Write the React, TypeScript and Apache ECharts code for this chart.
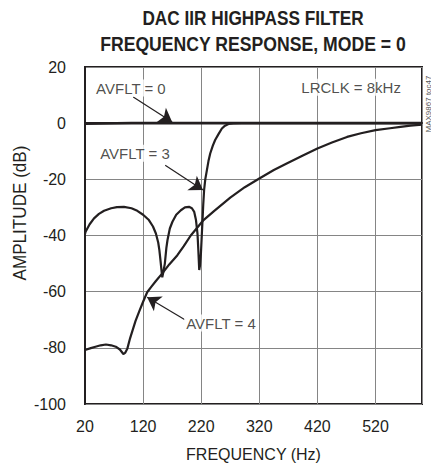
import React, { useEffect, useRef } from 'react';
import * as echarts from 'echarts';

const X_MIN = 20;
const X_MAX = 600;
const X_STEP = 100;
const Y_MIN = -100;
const Y_MAX = 20;
const Y_STEP = 20;

const titleLines = ['DAC IIR HIGHPASS FILTER', 'FREQUENCY RESPONSE, MODE = 0'];
const xAxisName = 'FREQUENCY (Hz)';
const yAxisName = 'AMPLITUDE (dB)';
const figureId = 'MAX9867 toc47';

const avflt0Freq = [20, 100, 200, 300, 400, 500, 600];
const avflt0Db = [-0.2, 0, 0, 0, 0, 0, 0];

const avflt3Freq = [20, 21, 28, 35.5, 44, 52.8, 65, 75, 87, 100, 110, 120, 130, 137, 142, 146, 148, 150, 151.6, 153, 155, 157.4, 160, 162, 166, 170.5, 177, 185, 192, 199, 204, 208, 211, 213.6, 215, 216.6, 218, 219.5, 221, 222, 223.5, 225, 227, 229.8, 232.5, 235.5, 240, 244, 250, 255.6, 261, 267, 275, 290, 400, 500, 600];
const avflt3Db = [-39.5, -38.7, -36, -33.9, -32.3, -31.2, -30.3, -29.9, -29.8, -30.3, -31.2, -32.6, -34.5, -36.8, -39.3, -42.5, -45.2, -49, -52.3, -54.9, -52.8, -50, -44.5, -41.6, -37.5, -35.1, -32.6, -31, -30, -29.8, -30.3, -31.6, -34.5, -39.3, -45, -52.3, -50.5, -46.4, -40, -35.7, -29, -23.8, -20, -16.7, -13.5, -10.8, -8, -6, -3.8, -1.9, -0.9, -0.3, -0.1, 0, 0, 0, 0];

const avflt4Freq = [20, 30, 38, 47, 56, 65, 73, 80, 86, 89, 93, 97, 102, 107, 113, 120, 127, 134, 142, 153, 165, 179, 190, 202, 212, 224, 242, 270, 295, 320, 345, 368, 395, 420, 445, 471, 495, 520, 545, 563, 580, 600];
const avflt4Db = [-80.8, -80.1, -79.6, -79.1, -78.8, -79.1, -79.6, -80.6, -82.2, -81.8, -80.2, -77, -73.7, -70.4, -67.2, -63.6, -60.2, -58.3, -56.2, -53.5, -50.3, -47, -43.8, -40, -37.5, -34.5, -31.3, -26.5, -22.8, -19.7, -16.7, -14.3, -11.5, -9, -6.9, -4.9, -3.6, -2.5, -1.8, -1.3, -0.9, -0.5];

const noteTexts = ['AVFLT = 0', 'AVFLT = 3', 'AVFLT = 4', 'LRCLK = 8kHz'];
const noteFreq = [99, 106, 254, 478];
const noteDb = [12.5, -10.7, -71.2, 12.8];

const arrowFromFreq = [103, 158, 192];
const arrowFromDb = [9.3, -15, -70];
const arrowToFreq = [170, 223, 127];
const arrowToDb = [0.4, -23.8, -62];

const INK = '#231f20';
const GRIDC = '#858585';
const FONT = "'Liberation Sans', Arial, Helvetica, sans-serif";

const sx = (f: number) => f - X_MIN;
const pts = (fs: number[], ds: number[]) => fs.map((f, i) => [sx(f), ds[i]]);

export default function App() {
  const ref = useRef<HTMLDivElement>(null);
  useEffect(() => {
    if (!ref.current) return;
    const chart = echarts.init(ref.current, undefined, { renderer: 'svg' });
    const lineSeries = (name: string, fs: number[], ds: number[], w: number, extra: any = {}) => ({
      type: 'line',
      name,
      data: pts(fs, ds),
      showSymbol: false,
      symbol: 'none',
      lineStyle: { color: INK, width: w },
      z: 3,
      ...extra,
    });
    chart.setOption({
      animation: false,
      backgroundColor: '#ffffff',
      grid: {
        left: 85, right: 9, top: 67, bottom: 65,
        show: true, borderColor: INK, borderWidth: 2, backgroundColor: 'transparent',
        outerBoundsMode: 'none',
      },
      xAxis: {
        type: 'value',
        min: 0,
        max: X_MAX - X_MIN,
        interval: X_STEP,
        name: xAxisName,
        nameLocation: 'middle',
        nameGap: 42,
        nameTextStyle: { fontFamily: FONT, fontSize: 16, color: INK },
        axisLine: { show: true, lineStyle: { color: INK, width: 2 } },
        axisTick: { show: false },
        axisLabel: {
          fontFamily: FONT, fontSize: 16, color: INK, margin: 14,
          showMaxLabel: false,
          formatter: (v: number) => String(v + X_MIN),
        },
        splitLine: { show: true, lineStyle: { color: GRIDC, width: 1 } },
      },
      yAxis: {
        type: 'value',
        min: Y_MIN,
        max: Y_MAX,
        interval: Y_STEP,
        axisLine: { show: true, lineStyle: { color: INK, width: 2 } },
        axisTick: { show: false },
        axisLabel: { fontFamily: FONT, fontSize: 16, color: INK, margin: 19 },
        splitLine: { show: true, lineStyle: { color: GRIDC, width: 1 } },
      },
      graphic: [
        {
          type: 'text',
          x: 253, y: 18, scaleX: 0.82,
          style: { text: titleLines[0], fontFamily: FONT, fontWeight: 'bold', fontSize: 21, fill: INK, align: 'center', verticalAlign: 'middle' },
        },
        {
          type: 'text',
          x: 253, y: 43, scaleX: 0.84,
          style: { text: titleLines[1], fontFamily: FONT, fontWeight: 'bold', fontSize: 21, fill: INK, align: 'center', verticalAlign: 'middle' },
        },
        {
          type: 'text',
          x: 20, y: 213, rotation: Math.PI / 2, scaleX: 0.95,
          style: { text: yAxisName, fontFamily: FONT, fontSize: 18, fill: INK, align: 'center', verticalAlign: 'middle' },
        },
        {
          type: 'text',
          x: 428, y: 104, rotation: Math.PI / 2,
          style: { text: figureId, fontFamily: FONT, fontSize: 8, fill: '#555', align: 'center', verticalAlign: 'middle' },
        },
      ],
      series: [
        lineSeries('AVFLT = 0', avflt0Freq, avflt0Db, 2.6),
        lineSeries('AVFLT = 3', avflt3Freq, avflt3Db, 2.2),
        lineSeries('AVFLT = 4', avflt4Freq, avflt4Db, 2.2, {
          markLine: {
            silent: true,
            symbol: ['none', 'arrow'],
            symbolSize: 13,
            label: { show: false },
            lineStyle: { color: INK, width: 1.2, type: 'solid' },
            data: arrowFromFreq.map((f, i) => [
              { coord: [sx(f), arrowFromDb[i]] },
              { coord: [sx(arrowToFreq[i]), arrowToDb[i]] },
            ]),
          },
        }),
        {
          type: 'scatter',
          name: 'notes',
          symbol: 'circle',
          symbolSize: 1,
          itemStyle: { color: 'rgba(0,0,0,0)' },
          z: 5,
          data: noteTexts.map((t, i) => ({ name: t, value: [sx(noteFreq[i]), noteDb[i]] })),
          label: {
            show: true,
            position: 'inside',
            formatter: (p: any) => p.name,
            fontFamily: FONT,
            fontSize: 15,
            color: INK,
            backgroundColor: '#ffffff',
            padding: [1, 2],
          },
        },
      ],
    });
    return () => chart.dispose();
  }, []);
  return <div ref={ref} style={{ width: 431, height: 469, position: 'absolute', left: 0, top: 0 }} />;
}
